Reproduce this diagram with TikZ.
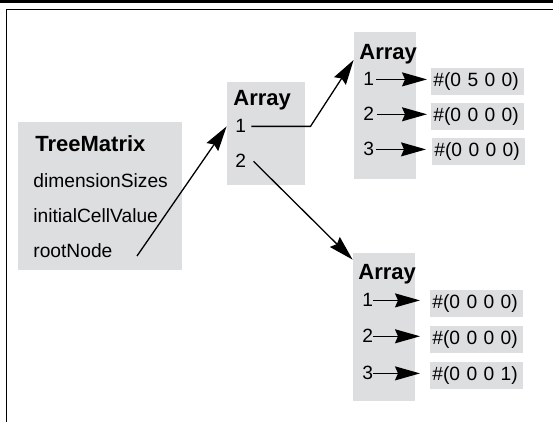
\documentclass[tikz,border=0pt]{standalone}
\usepackage{fontspec}
\setmainfont{Liberation Sans}
\usepackage{xcolor}
\usetikzlibrary{arrows.meta}
\usetikzlibrary{calc}
\usetikzlibrary{fit}
\definecolor{cellgray}{RGB}{221,222,224}
\newcommand\bodyfont{\fontsize{9.6}{11}\selectfont}
\newcommand\titlefont{\fontsize{11}{13}\selectfont\bfseries}
\tikzset{
    plain/.style = {inner sep=0pt, anchor=base west},
    title/.style = {plain, font=\titlefont},
    entry/.style = {plain, font=\bodyfont},
    panel/.style = {fill=cellgray, inner sep=0pt},
    cell/.style = {panel, anchor=north west, align=left, font=\bodyfont,
                   text width=44.5pt, inner xsep=1pt, minimum width=46.5pt, minimum height=13.5pt},
    ptr/.style = {->, line width=0.65pt}
}

\begin{document}
\begin{tikzpicture}
    [x=0.5pt, y=-0.5pt,
    >={Stealth[length=12.5pt, width=7pt, inset=1.5pt]}]

    \useasboundingbox (0,0) rectangle (553,422);

    % page rule and frame
    \fill (0,0) rectangle (553,3.5);
    \draw[line width=0.9pt] (6.5,422) -- (6.5,9.5) -- (553,9.5);

    % the matrix object
    \node[panel, fit={(18,122) (182,270)}] (treebox) {};
    \node[title] (tm) at (35,152) {TreeMatrix};
    \node[entry] (dims) at (33,188) {dimensionSizes};
    \node[entry] (init) at (33,223) {initialCellValue};
    \node[entry] (root) at (33,258) {rootNode};
    \coordinate (rootptr) at (137,256);

    % first level array
    \node[panel, fit={(227,82) (305,185)}] (midbox) {};
    \node[title] (midtitle) at (233,106) {Array};
    \node[entry] (mid1) at (235,133) {1};
    \node[entry] (mid2) at (235,168) {2};

    % upper leaf array
    \node[panel, fit={(354,32) (416,179)}] (upbox) {};
    \node[title] (uptitle) at (359,60) {Array};
    \node[entry] (up1) at (363,86) {1};
    \node[entry] (up2) at (363,121) {2};
    \node[entry] (up3) at (363,156) {3};
    \node[cell] (upv1) at (431,68) {\#(0 5 0 0)};
    \node[cell] (upv2) at (431,103) {\#(0 0 0 0)};
    \node[cell] (upv3) at (432,138) {\#(0 0 0 0)};

    % lower leaf array
    \node[panel, fit={(353,253) (415,401)}] (lowbox) {};
    \node[title] (lowtitle) at (358,280) {Array};
    \node[entry] (low1) at (362,307) {1};
    \node[entry] (low2) at (362,343) {2};
    \node[entry] (low3) at (362,380) {3};
    \node[cell] (lowv1) at (430,290) {\#(0 0 0 0)};
    \node[cell] (lowv2) at (430,326) {\#(0 0 0 0)};
    \node[cell] (lowv3) at (430,362) {\#(0 0 0 1)};

    % pointers
    \draw[ptr] (rootptr) -- (midbox.west |- mid1);
    \draw[ptr] ([xshift=2.5pt]mid1.east) -- ++(59,0) -- (upbox.west |- uptitle.base);
    \draw[ptr] ([xshift=3.5pt]mid2.east) -- ($(lowbox.north west)+(0,7)$);

    \draw[ptr, shorten <=1pt, shorten >=2pt] (up1.east) -- (up1.east -| upv1.west);
    \draw[ptr, shorten <=1.5pt, shorten >=2pt] (up2.east) -- (up2.east -| upv2.west);
    \draw[ptr, shorten <=1pt, shorten >=3pt] (up3.east) -- (up3.east -| upv3.west);

    \draw[ptr, shorten >=5pt] (low1.east) -- (low1.east -| lowv1.west);
    \draw[ptr, shorten >=5pt] (low2.east) -- (low2.east -| lowv2.west);
    \draw[ptr, shorten >=5pt] (low3.east) -- (low3.east -| lowv3.west);
\end{tikzpicture}
\end{document}
